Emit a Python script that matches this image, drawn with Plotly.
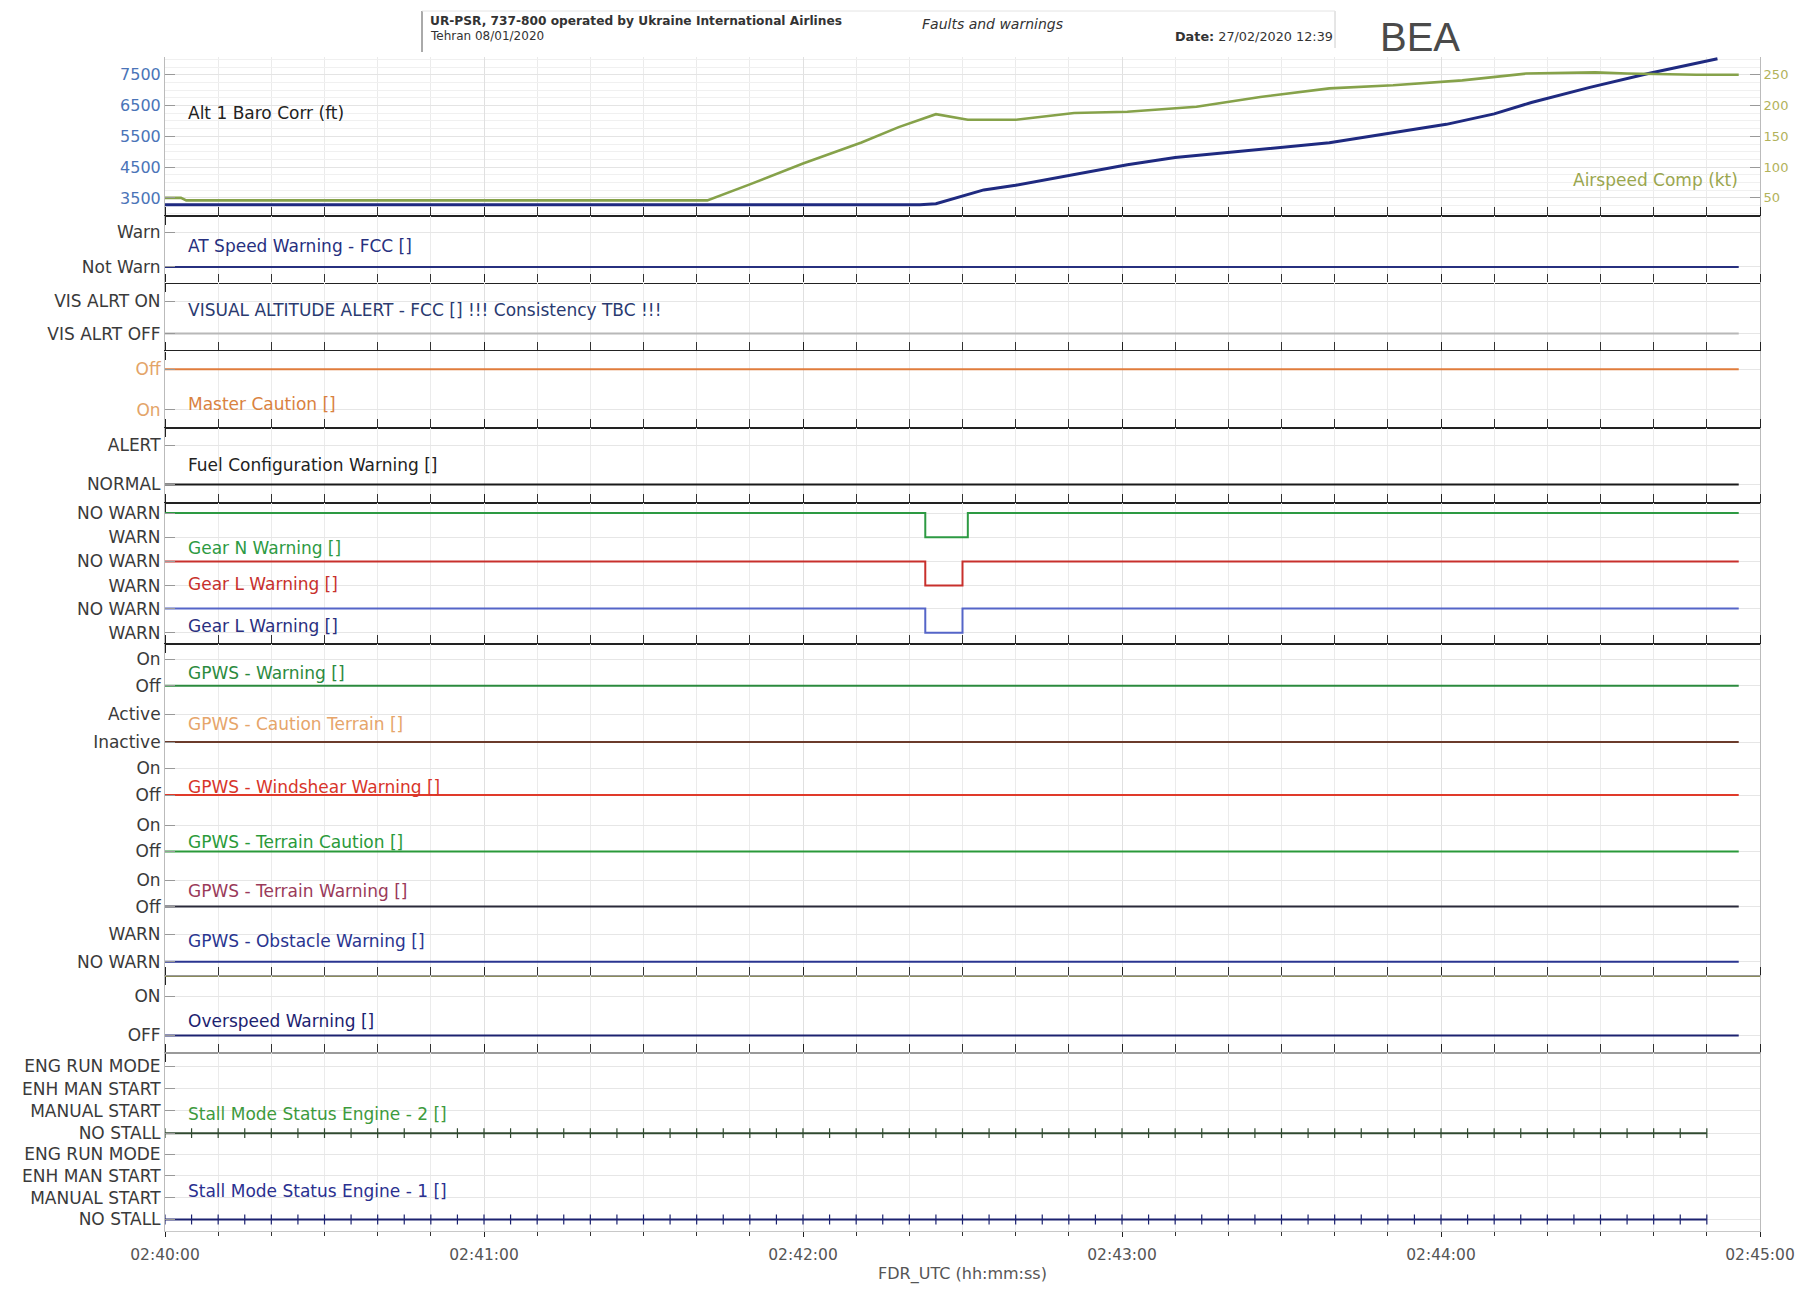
import plotly.graph_objects as go

# ---------------- DATA ----------------
DATE = "2020-01-08 "
X_START, X_END = "02:40:00", "02:45:00"

# Alt 1 Baro Corr (ft)
alt_time = ["02:40:00", "02:42:22", "02:42:25", "02:42:29", "02:42:34", "02:42:40", "02:42:51",
            "02:43:01", "02:43:10", "02:43:19", "02:43:29", "02:43:39", "02:43:50", "02:44:01",
            "02:44:10", "02:44:17", "02:44:28", "02:44:39", "02:44:52"]
alt_ft = [3280, 3280, 3310, 3500, 3760, 3910, 4250, 4580, 4810, 4960, 5110, 5290, 5590, 5890,
          6230, 6600, 7090, 7540, 8020]

# Airspeed Comp (kt)
ias_time = ["02:40:00", "02:40:03", "02:40:04", "02:41:42", "02:41:50", "02:42:00", "02:42:11",
            "02:42:18", "02:42:25", "02:42:31", "02:42:40", "02:42:51", "02:43:01", "02:43:14",
            "02:43:26", "02:43:39", "02:43:51", "02:44:04", "02:44:16", "02:44:29", "02:44:35",
            "02:44:48", "02:44:56"]
ias_kt = [50, 50, 46, 46, 72, 106, 140, 165, 186, 177, 177, 188, 190, 198, 214, 228, 233, 241,
          252, 254, 252, 250, 250]

alt_ticks = [3500, 4500, 5500, 6500, 7500]
ias_ticks = [50, 100, 150, 200, 250]

# Discrete parameters: states are listed bottom -> top
at_speed_states = ["Not Warn", "Warn"]
at_speed_time = ["02:40:00", "02:44:56"]
at_speed_val = ["Not Warn", "Not Warn"]

vis_alert_states = ["VIS ALRT OFF", "VIS ALRT ON"]
vis_alert_time = ["02:40:00", "02:44:56"]
vis_alert_val = ["VIS ALRT OFF", "VIS ALRT OFF"]

master_caution_states = ["On", "Off"]
master_caution_time = ["02:40:00", "02:44:56"]
master_caution_val = ["Off", "Off"]

fuel_cfg_states = ["NORMAL", "ALERT"]
fuel_cfg_time = ["02:40:00", "02:44:56"]
fuel_cfg_val = ["NORMAL", "NORMAL"]

gear_states = ["WARN", "NO WARN"]
gear_n_time = ["02:40:00", "02:42:23", "02:42:31", "02:44:56"]
gear_n_val = ["NO WARN", "WARN", "NO WARN", "NO WARN"]
gear_l_red_time = ["02:40:00", "02:42:23", "02:42:30", "02:44:56"]
gear_l_red_val = ["NO WARN", "WARN", "NO WARN", "NO WARN"]
gear_l_blue_time = ["02:40:00", "02:42:23", "02:42:30", "02:44:56"]
gear_l_blue_val = ["NO WARN", "WARN", "NO WARN", "NO WARN"]

onoff_states = ["Off", "On"]
gpws_warn_time = ["02:40:00", "02:44:56"]
gpws_warn_val = ["Off", "Off"]

caution_terrain_states = ["Inactive", "Active"]
caution_terrain_time = ["02:40:00", "02:44:56"]
caution_terrain_val = ["Inactive", "Inactive"]

windshear_time = ["02:40:00", "02:44:56"]
windshear_val = ["Off", "Off"]

terrain_caution_time = ["02:40:00", "02:44:56"]
terrain_caution_val = ["Off", "Off"]

terrain_warn_time = ["02:40:00", "02:44:56"]
terrain_warn_val = ["Off", "Off"]

obstacle_states = ["NO WARN", "WARN"]
obstacle_time = ["02:40:00", "02:44:56"]
obstacle_val = ["NO WARN", "NO WARN"]

overspeed_states = ["OFF", "ON"]
overspeed_time = ["02:40:00", "02:44:56"]
overspeed_val = ["OFF", "OFF"]

stall_states = ["NO STALL", "MANUAL START", "ENH MAN START", "ENG RUN MODE"]
stall_sample_seconds = list(range(0, 295, 5))   # recorded samples (every 5 s)
stall_eng2_val = ["NO STALL"] * len(stall_sample_seconds)
stall_eng1_val = ["NO STALL"] * len(stall_sample_seconds)

x_tick_labels = ["02:40:00", "02:41:00", "02:42:00", "02:43:00", "02:44:00", "02:45:00"]

# ---------------- LAYOUT HELPERS ----------------
# All pixel positions below are page coordinates; the page body has an 8 px margin.
PAGE_OFF = 8
W, H = 1804 - 2 * PAGE_OFF, 1292 - 2 * PAGE_OFF
L, R, T, B = 165, 1760, 57, 1231          # plot area in page px
FONT = "DejaVu Sans, Open Sans, sans-serif"
TICK_FS = 17
LABEL_FS = 17


def fy(p):
    return 1 - (p - T) / (B - T)


def fx(p):
    return (p - L) / (R - L)


def ts(hms):
    return DATE + hms


def sec_to_hms(s):
    m, sec = divmod(40 * 60 + s, 60)
    return "02:%02d:%02d" % (m, sec)


stall_time = [sec_to_hms(s) for s in stall_sample_seconds]

# panel geometry (page px): top, bottom, pixel of lowest state, pixel of highest state, label y
panels = [
    dict(label="AT Speed Warning - FCC []", lc="#27307f", col="#27307f", states=at_speed_states,
         t=at_speed_time, v=at_speed_val, top=216, bot=283, lo=266.9, hi=232.4, ly=246, xs="both",
         xline="#222222"),
    dict(label="VISUAL ALTITUDE ALERT - FCC [] !!! Consistency TBC !!!", lc="#2a3a70", col="#b8b8b8",
         states=vis_alert_states, t=vis_alert_time, v=vis_alert_val, top=283, bot=351, lo=333.6,
         hi=301.4, ly=309.5, xs="both", xline=None),
    dict(label="Master Caution []", lc="#d9823f", col="#e07c3c", states=master_caution_states,
         t=master_caution_time, v=master_caution_val, top=351, bot=428, lo=409.6, hi=369.3,
         ly=403.8, xs="both", xline="#222222", tc="#e3a468"),
    dict(label="Fuel Configuration Warning []", lc="#222222", col="#1a1a1a", states=fuel_cfg_states,
         t=fuel_cfg_time, v=fuel_cfg_val, top=428, bot=502.8, lo=484.4, hi=445, ly=464.8, xs="both",
         xline="#222222"),
    dict(label="Gear N Warning []", lc="#2d9a43", col="#2d9a43", states=gear_states, t=gear_n_time,
         v=gear_n_val, top=502.8, bot=548.8, lo=537.3, hi=513, ly=548, xs="top", xline="#222222"),
    dict(label="Gear L Warning []", lc="#c8302c", col="#c8302c", states=gear_states, t=gear_l_red_time,
         v=gear_l_red_val, top=548.8, bot=597, lo=585.6, hi=561.4, ly=584, xs=None, xline=None),
    dict(label="Gear L Warning []", lc="#2a2f80", col="#5565c8", states=gear_states,
         t=gear_l_blue_time, v=gear_l_blue_val, top=597, bot=644.3, lo=632.8, hi=608.6, ly=626,
         xs="bottom", xline="#222222"),
    dict(label="GPWS - Warning []", lc="#2b8a3e", col="#2b8a3e", states=onoff_states,
         t=gpws_warn_time, v=gpws_warn_val, top=644.3, bot=699.5, lo=685.7, hi=659.2, ly=673,
         xs="top", xline="#222222"),
    dict(label="GPWS - Caution Terrain []", lc="#e6a56a", col="#6b3b2b", states=caution_terrain_states,
         t=caution_terrain_time, v=caution_terrain_val, top=699.5, bot=754.7, lo=742, hi=714.5,
         ly=724, xs=None, xline=None),
    dict(label="GPWS - Windshear Warning []", lc="#d8342a", col="#e03a2a", states=onoff_states,
         t=windshear_time, v=windshear_val, top=754.7, bot=810, lo=795, hi=768.5, ly=787, xs=None,
         xline=None),
    dict(label="GPWS - Terrain Caution []", lc="#2a9a3a", col="#2a9a3a", states=onoff_states,
         t=terrain_caution_time, v=terrain_caution_val, top=810, bot=865, lo=851.4, hi=825, ly=842,
         xs=None, xline=None),
    dict(label="GPWS - Terrain Warning []", lc="#9a3a5a", col="#2a2a3a", states=onoff_states,
         t=terrain_warn_time, v=terrain_warn_val, top=865, bot=920.4, lo=906.6, hi=880, ly=890.5,
         xs=None, xline=None),
    dict(label="GPWS - Obstacle Warning []", lc="#2a3590", col="#2a3590", states=obstacle_states,
         t=obstacle_time, v=obstacle_val, top=920.4, bot=975.6, lo=961.8, hi=934.2, ly=941,
         xs="bottom", xline="#8a8a5a"),
    dict(label="Overspeed Warning []", lc="#1c2270", col="#1c2270", states=overspeed_states,
         t=overspeed_time, v=overspeed_val, top=975.6, bot=1052.7, lo=1035.5, hi=996.3, ly=1020.5,
         xs="both", xline="#9a9a9a"),
    dict(label="Stall Mode Status Engine - 2 []", lc="#3d9a3d", col="#304a30", states=stall_states,
         t=stall_time, v=stall_eng2_val, top=1052.7, bot=1142.4, lo=1133.2, hi=1066.5, ly=1113.7,
         xs="top", xline="#9a9a9a", markers=True),
    dict(label="Stall Mode Status Engine - 1 []", lc="#2a3090", col="#1c2270", states=stall_states,
         t=stall_time, v=stall_eng1_val, top=1142.4, bot=B, lo=1219.5, hi=1154, ly=1190.8,
         xs="last", xline="#c8c8c8", markers=True),
]

fig = go.Figure()
layout = dict(
    width=W, height=H,
    margin=dict(l=L - PAGE_OFF, r=W - (R - PAGE_OFF), t=T - PAGE_OFF, b=H - (B - PAGE_OFF),
                autoexpand=False),
    paper_bgcolor="white", plot_bgcolor="white",
    showlegend=False,
    font=dict(family=FONT, size=TICK_FS, color="#3a3a3a"),
)

xrange = [ts(X_START), ts(X_END)]


def xaxis_cfg(i, style, line_color):
    cfg = dict(
        type="date", range=xrange, anchor="y" if i == 1 else "y%d" % i, domain=[0, 1],
        showgrid=True, gridcolor="#e0e0e0", gridwidth=1,
        tick0=ts(X_START), dtick=60000,
        minor=dict(dtick=10000, showgrid=True, gridcolor="#ebebeb"),
        showticklabels=False, zeroline=False, tickformat="%H:%M:%S",
        showline=line_color is not None, linecolor=line_color or "#ffffff", linewidth=1.1,
        ticks="", fixedrange=True, automargin=False,
    )
    if i > 1:
        cfg["matches"] = "x"
    if style in ("bottom", "both", "top", "last"):
        cfg["ticks"] = "outside"
        cfg["ticklen"] = 8 if style != "last" else 5
        cfg["tickcolor"] = "#222222"
        cfg["tickwidth"] = 1.3
        cfg["minor"].update(ticks="outside", ticklen=8 if style != "last" else 4,
                            tickcolor="#333333", tickwidth=1)
    if style == "top":
        cfg["side"] = "top"
    if style == "both":
        cfg["mirror"] = "ticks"
    if style == "last":
        cfg.update(showticklabels=True, tickvals=[ts(s) for s in x_tick_labels],
                   ticktext=x_tick_labels, tickfont=dict(size=15.5, color="#555555"),
                   ticklabelstandoff=4,
                   title=dict(text="FDR_UTC (hh:mm:ss)", font=dict(size=16, color="#555555"),
                              standoff=8))
        cfg["minor"].update(tick0=ts(X_START))
    return cfg


# ---- top panel (altitude + airspeed) ----
top_px, bot_px = T, 216
p_hi, p_lo = 74.8, 197.9   # pixels of 7500 and 3500
unit = (p_lo - p_hi) / (alt_ticks[-1] - alt_ticks[0])
alt_lo = alt_ticks[0] - (bot_px - p_lo) / unit
alt_hi = alt_ticks[-1] + (p_hi - top_px) / unit


def ft_to_kt(v):
    return ias_ticks[0] + (v - alt_ticks[0]) * (ias_ticks[-1] - ias_ticks[0]) / (alt_ticks[-1] - alt_ticks[0])


fig.add_trace(go.Scatter(x=[ts(t) for t in ias_time], y=ias_kt, mode="lines",
                         line=dict(color="#86a24a", width=2.6), xaxis="x", yaxis="y18",
                         name="Airspeed Comp (kt)"))
fig.add_trace(go.Scatter(x=[ts(t) for t in alt_time], y=alt_ft, mode="lines",
                         line=dict(color="#1f2a80", width=3), xaxis="x", yaxis="y",
                         name="Alt 1 Baro Corr (ft)"))

layout["xaxis"] = xaxis_cfg(1, "bottom", "#222222")
layout["yaxis"] = dict(domain=[fy(bot_px), fy(top_px)], range=[alt_lo, alt_hi], anchor="x",
                       tickvals=alt_ticks, ticks="inside", ticklen=10, tickcolor="#999999",
                       tickfont=dict(color="#4a74b8", size=16), showgrid=True,
                       gridcolor="#e4e4e4", minor=dict(dtick=250, showgrid=True, gridcolor="#f0f0f0"),
                       zeroline=False, showline=True, linecolor="#bbbbbb", fixedrange=True,
                       automargin=False)
layout["yaxis18"] = dict(overlaying="y", side="right", anchor="x",
                         range=[ft_to_kt(alt_lo), ft_to_kt(alt_hi)], tickvals=ias_ticks,
                         ticks="inside", ticklen=10, tickcolor="#999999",
                         tickfont=dict(color="#b2b25a", size=13), showgrid=False, zeroline=False,
                         showline=True, linecolor="#bbbbbb", fixedrange=True, automargin=False)

annotations = [
    dict(text="Alt 1 Baro Corr (ft)", x=fx(186), y=fy(112.7), xref="paper", yref="paper",
         xanchor="left", yanchor="middle", showarrow=False,
         font=dict(size=LABEL_FS, color="#222222")),
    dict(text="Airspeed Comp (kt)", x=fx(1740), y=fy(179.5), xref="paper", yref="paper",
         xanchor="right", yanchor="middle", showarrow=False,
         font=dict(size=LABEL_FS, color="#9aa64e")),
]

# ---- discrete panels ----
for k, p in enumerate(panels):
    i = k + 2
    n = len(p["states"])
    u = (p["lo"] - p["hi"]) / (n - 1)
    r_lo = 0 - (p["bot"] - p["lo"]) / u
    r_hi = (n - 1) + (p["hi"] - p["top"]) / u
    yk = "y%d" % i
    xk = "x%d" % i
    yvals = [p["states"].index(v) for v in p["v"]]
    mk = p.get("markers", False)
    fig.add_trace(go.Scatter(
        x=[ts(t) for t in p["t"]], y=yvals, mode="lines+markers" if mk else "lines",
        line=dict(color=p["col"], width=2, shape="hv"),
        marker=dict(symbol="line-ns", size=7, line=dict(width=1.2, color=p["col"])) if mk else None,
        xaxis=xk, yaxis=yk, name=p["label"]))
    layout["xaxis%d" % i] = xaxis_cfg(i, p["xs"], p["xline"])
    layout["yaxis%d" % i] = dict(
        domain=[fy(p["bot"]), fy(p["top"])], range=[r_lo, r_hi], anchor=xk,
        tickvals=list(range(n)), ticktext=p["states"], ticks="inside", ticklen=10,
        tickcolor="#999999", tickfont=dict(size=TICK_FS, color=p.get("tc", "#3a3a3a")),
        showgrid=True, gridcolor="#e6e6e6", zeroline=False, showline=True,
        linecolor="#bbbbbb", mirror=True, fixedrange=True, automargin=False)
    annotations.append(dict(text=p["label"], x=fx(186), y=fy(p["ly"]), xref="paper", yref="paper",
                            xanchor="left", yanchor="middle", showarrow=False,
                            font=dict(size=LABEL_FS, color=p["lc"])))

# ---- header ----
annotations += [
    dict(text="<b>UR-PSR, 737-800 operated by Ukraine International Airlines</b>", x=fx(428),
         y=fy(21), xref="paper", yref="paper", xanchor="left", yanchor="middle", showarrow=False,
         font=dict(size=12.2, color="#333333")),
    dict(text="Tehran 08/01/2020", x=fx(428), y=fy(36), xref="paper", yref="paper",
         xanchor="left", yanchor="middle", showarrow=False, font=dict(size=12, color="#333333")),
    dict(text="<i>Faults and warnings</i>", x=fx(920), y=fy(24), xref="paper", yref="paper",
         xanchor="left", yanchor="middle", showarrow=False, font=dict(size=14, color="#333333")),
    dict(text="<b>Date:</b> 27/02/2020 12:39", x=fx(1173), y=fy(37), xref="paper", yref="paper",
         xanchor="left", yanchor="middle", showarrow=False, font=dict(size=12.8, color="#333333")),
    dict(text="BEA", x=fx(1378), y=fy(37), xref="paper", yref="paper", xanchor="left",
         yanchor="middle", showarrow=False,
         font=dict(size=40, color="#4a4a4a", family="Liberation Sans, Arial, sans-serif")),
]
layout["annotations"] = annotations
layout["shapes"] = [
    dict(type="line", xref="paper", yref="paper", x0=fx(422), x1=fx(422), y0=fy(52), y1=fy(11),
         line=dict(color="#555555", width=1)),
    dict(type="line", xref="paper", yref="paper", x0=fx(1335), x1=fx(1335), y0=fy(48), y1=fy(11),
         line=dict(color="#cccccc", width=1)),
    dict(type="line", xref="paper", yref="paper", x0=fx(422), x1=fx(1335), y0=fy(11), y1=fy(11),
         line=dict(color="#e4e4e4", width=1)),
]

fig.update_layout(**layout)
fig.write_html("out.html")
